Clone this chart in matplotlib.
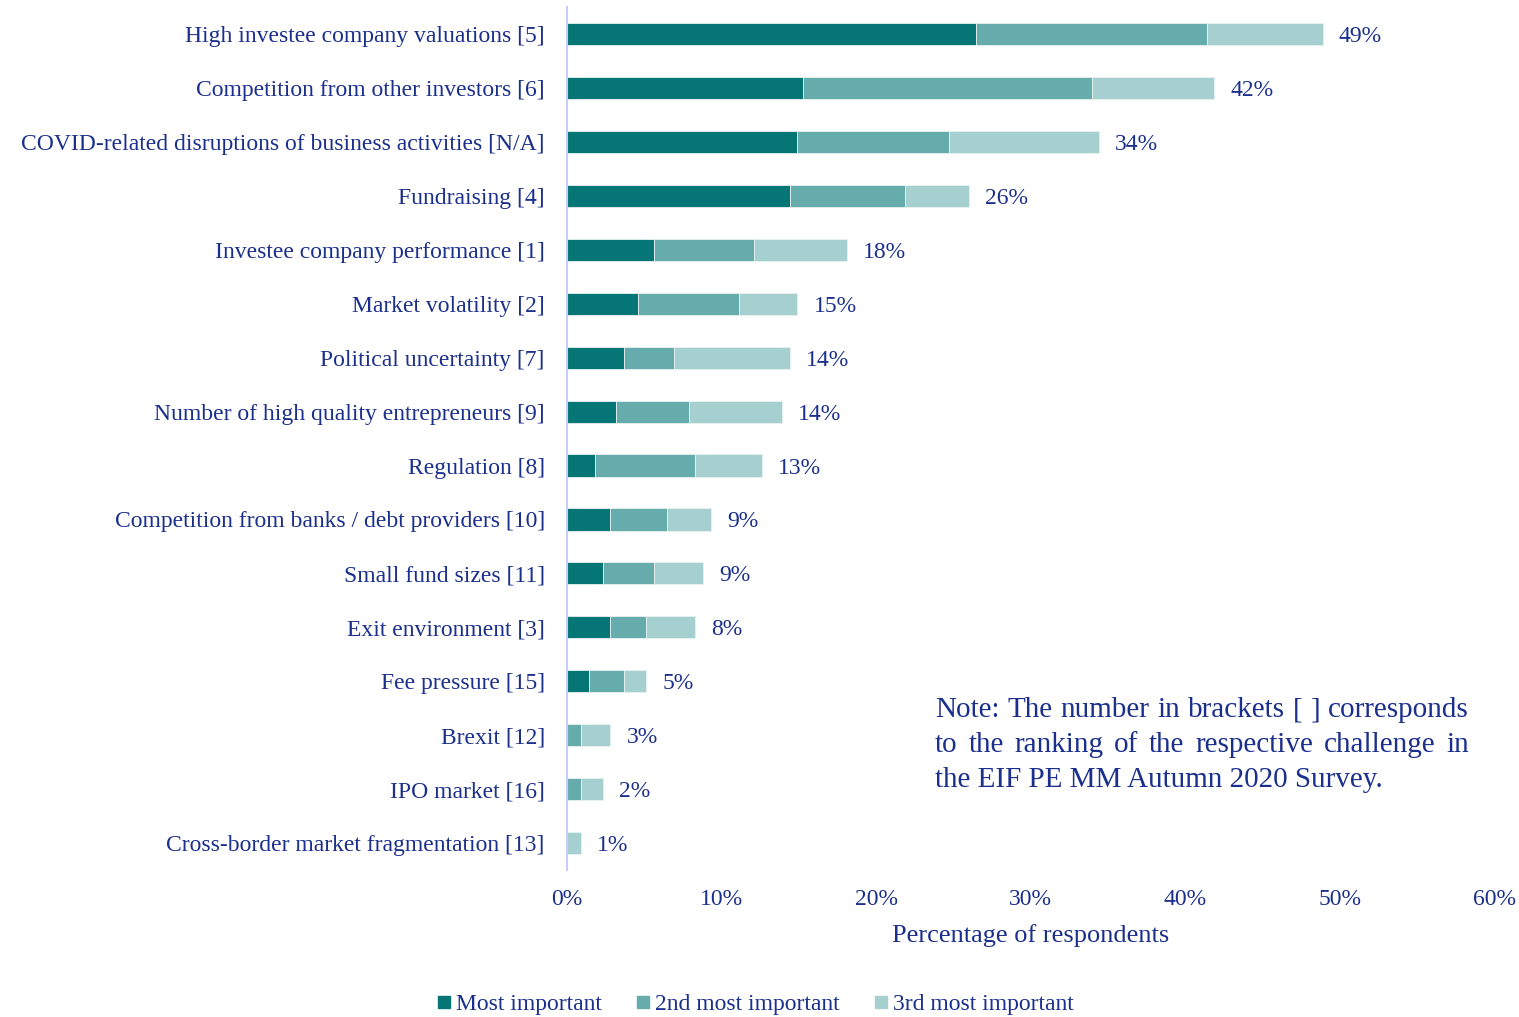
import numpy as np
import matplotlib.pyplot as plt
from matplotlib.lines import Line2D

# Challenges, top to bottom, with their previous-survey rank in brackets
categories = [
    "High investee company valuations [5]",
    "Competition from other investors [6]",
    "COVID-related disruptions of business activities [N/A]",
    "Fundraising [4]",
    "Investee company performance [1]",
    "Market volatility [2]",
    "Political uncertainty [7]",
    "Number of high quality entrepreneurs [9]",
    "Regulation [8]",
    "Competition from banks / debt providers [10]",
    "Small fund sizes [11]",
    "Exit environment [3]",
    "Fee pressure [15]",
    "Brexit [12]",
    "IPO market [16]",
    "Cross-border market fragmentation [13]",
]

# Share of respondents (%) per importance level
most_important = [26.5, 15.3, 14.9, 14.4, 5.6, 4.6, 3.7, 3.2, 1.8, 2.8, 2.3, 2.8, 1.4, 0.0, 0.0, 0.0]
second_important = [14.9, 18.7, 9.8, 7.5, 6.5, 6.5, 3.2, 4.7, 6.5, 3.7, 3.3, 2.3, 2.3, 0.9, 0.9, 0.0]
third_important = [7.5, 7.9, 9.7, 4.1, 6.0, 3.8, 7.5, 6.0, 4.3, 2.8, 3.2, 3.2, 1.4, 1.9, 1.4, 0.9]

series_names = ["Most important", "2nd most important", "3rd most important"]
colors = ["#067575", "#66acac", "#a6cfcf"]
text_color = "#1b2f8c"

note_lines = ["Note: The number in brackets [ ] corresponds",
              "to the ranking of the respective challenge in",
              "the EIF PE MM Autumn 2020 Survey."]

plt.rcParams['font.family'] = ['Liberation Serif', 'DejaVu Serif']

fig = plt.figure(figsize=(15.19, 10.17), dpi=100)
ax = fig.add_axes([0.3733, 0.1445, 0.6103, 0.8485])

y = np.arange(len(categories))
m = np.array(most_important)
s = np.array(second_important)
t = np.array(third_important)
totals = m + s + t

h = 0.41
ax.barh(y, m, height=h, color=colors[0], edgecolor="#e8f2f2", linewidth=0.6)
ax.barh(y, s, height=h, left=m, color=colors[1], edgecolor="#e8f2f2", linewidth=0.6)
ax.barh(y, t, height=h, left=m + s, color=colors[2], edgecolor="#e8f2f2", linewidth=0.6)

# Total labels at the end of each bar
for yi, tot in zip(y, totals):
    ax.text(tot + 1.05, yi, "{:.0f}%".format(tot), va="center_baseline", ha="left",
            fontsize=17, color=text_color)

ax.set_yticks(y)
ax.set_yticklabels(categories, fontsize=17, color=text_color)
ax.set_ylim(len(categories) - 0.5, -0.5)
ax.set_xlim(0, 60)
ax.set_xticks(np.arange(0, 61, 10))
ax.set_xticklabels(["{}%".format(v) for v in range(0, 61, 10)], fontsize=17, color=text_color)
ax.tick_params(axis="both", length=0)
ax.tick_params(axis="y", pad=16)
ax.tick_params(axis="x", pad=14)
ax.set_xlabel("Percentage of respondents", fontsize=19, color=text_color, labelpad=10)

for side in ["top", "right", "bottom"]:
    ax.spines[side].set_visible(False)
ax.spines["left"].set_color("#c6cdf6")
ax.spines["left"].set_linewidth(1.5)

# Justified note block: every line but the last is stretched to the full width
renderer = fig.canvas.get_renderer()
W, H = fig.bbox.width, fig.bbox.height
x0, x1 = 935 / W, 1469 / W
y_first = 1 - 707 / H
line_step = 35 / H
for i, line in enumerate(note_lines):
    yl = y_first - i * line_step
    words = line.split(" ")
    if i == len(note_lines) - 1:
        fig.text(x0, yl, line, fontsize=21, color=text_color, ha="left", va="center_baseline")
        continue
    arts = [fig.text(0, yl, w, fontsize=21, color=text_color, ha="left", va="center_baseline")
            for w in words]
    widths = [a.get_window_extent(renderer).width / W for a in arts]
    gap = (x1 - x0 - sum(widths)) / (len(words) - 1)
    xpos = x0
    for a, wd in zip(arts, widths):
        a.set_x(xpos)
        xpos += wd + gap

handles = [Line2D([0], [0], marker="s", linestyle="", markersize=9,
                  markerfacecolor=c, markeredgecolor=c) for c in colors]
fig.legend(handles, series_names, loc="center", bbox_to_anchor=(0.496, 0.0125),
           ncol=3, frameon=False, fontsize=17, labelcolor=text_color,
           handletextpad=0.05, columnspacing=1.3, handlelength=0.9)

fig.savefig("out.png", dpi=100)
